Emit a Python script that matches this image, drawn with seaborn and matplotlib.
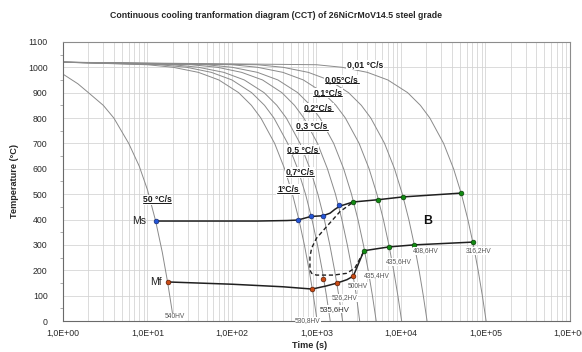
import numpy as np
import pandas as pd
import matplotlib
matplotlib.use("Agg")
import matplotlib.pyplot as plt
from matplotlib.ticker import FuncFormatter, LogLocator, MultipleLocator, NullFormatter
from matplotlib.lines import Line2D
import seaborn as sns

# cooling curves, time (s) read at each temperature level
temp_levels = [1020, 1010, 1000, 980, 950, 900, 850, 800, 700, 600, 500, 400, 300, 200, 100, 0]
times_1 = [1, 10, 20, 40, 70, 120, 170, 220, 320, 420, 520, 620, 720, 820, 920, 1020]
times_07 = [1, 14, 29, 57, 100, 171, 243, 314, 457, 600, 743, 886, 1029, 1171, 1314, 1457]
times_05 = [1, 20, 40, 80, 140, 240, 340, 440, 640, 840, 1040, 1240, 1440, 1640, 1840, 2040]
times_03 = [1, 33, 67, 130, 230, 390, 550, 710, 1030, 1350, 1680, 2000, 2320, 2650, 2970, 3250]
times_02 = [1, 50, 100, 200, 350, 600, 850, 1100, 1600, 2100, 2600, 3100, 3600, 4100, 4600, 5100]
times_01 = [1, 100, 200, 400, 700, 1200, 1700, 2200, 3200, 4200, 5200, 6200, 7200, 8200, 9200, 10200]
times_005 = [1, 200, 400, 800, 1400, 2400, 3400, 4400, 6400, 8400, 10400, 12400, 14400, 16400, 18400, 20400]
times_001 = [1, 1000, 2000, 4000, 7000, 12000, 17000, 22000, 32000, 42000, 52000, 62000, 72000, 82000, 92000, 102000]

# 50 C/s curve has its own points
times_50 = [1, 1.5, 2, 3, 4, 5, 6, 8, 10, 12.5, 15, 17.3, 20]
temps_50 = [973, 935, 900, 850, 800, 745, 700, 610, 517, 394, 270, 154, 20]

# Ms / bainite start line
ms_time = [12.5, 200, 450, 604, 857, 1200, 1450, 1650, 1900, 2270, 2700, 5350, 10500, 51000]
ms_temp = [394, 394, 396, 398, 412, 415, 425, 440, 453, 461, 469, 478, 489, 504]
# Mf / bainite finish line
mf_time = [17.3, 100, 400, 890, 1300, 1733, 2300, 2730, 3650, 7200, 14200, 71000]
mf_temp = [154, 145, 135, 126, 138, 149, 163, 177, 277, 292, 300, 311]
# dashed nose
dash_time = [2610, 1897, 1320, 1000, 877, 838, 838, 877, 1000, 1590, 2275, 2840, 3680]
dash_temp = [464, 431, 372, 326, 287, 253, 201, 188, 181, 181, 188, 208, 277]

blue_time = [12.5, 604, 857, 1200, 1850]
blue_temp = [394, 398, 414, 414, 458]
green_time = [2700, 5350, 10500, 51000, 3650, 7200, 14200, 71000]
green_temp = [469, 478, 489, 504, 277, 292, 300, 311]
orange_time = [17.3, 890, 1200, 1733, 2730]
orange_temp = [154, 126, 166, 149, 177]

rate_labels = ["0,01 °C/s", "0,05°C/s", "0,1°C/s", "0,2°C/s", "0,3 °C/s",
               "0,5 °C/s", "0,7°C/s", "1°C/s", "50 °C/s"]
rate_label_time = [3750, 2000, 1370, 1050, 885, 692, 638, 460, 13]
rate_label_temp = [1009, 950, 899, 840, 767, 674, 586, 517, 477]

hv_labels = ["540HV", "530,8HV", "535,6HV", "526,2HV", "500HV",
             "435,4HV", "435,6HV", "408,6HV", "316,2HV"]
hv_time = [21, 794, 1660, 2175, 3100, 5200, 9460, 19800, 83800]
hv_temp = [16, 0, 47, 91, 138, 181, 233, 276, 276]

curves = {"1": times_1, "0.7": times_07, "0.5": times_05, "0.3": times_03,
          "0.2": times_02, "0.1": times_01, "0.05": times_005, "0.01": times_001}
rows = []
for rate, tt in curves.items():
    for t, T in zip(tt, temp_levels):
        rows.append({"rate": rate, "time": t, "temp": T})
for t, T in zip(times_50, temps_50):
    rows.append({"rate": "50", "time": t, "temp": T})
cool_df = pd.DataFrame(rows)

sns.set_style("whitegrid")
plt.rcParams["font.family"] = ["Liberation Sans", "DejaVu Sans"]

fig = plt.figure(figsize=(5.82, 3.52), dpi=100)
ax = fig.add_axes([0.1082, 0.088, 0.871, 0.793])

sns.lineplot(data=cool_df, x="time", y="temp", units="rate", estimator=None,
             sort=False, color="#8a8a8a", linewidth=0.7, ax=ax, legend=False)

sns.lineplot(x=ms_time, y=ms_temp, sort=False, color="#202020", linewidth=1.1, ax=ax)
sns.lineplot(x=mf_time, y=mf_temp, sort=False, color="#202020", linewidth=1.1, ax=ax)
ax.plot(dash_time, dash_temp, color="#202020", linewidth=1.0, linestyle=(0, (3, 2)))

sns.scatterplot(x=blue_time, y=blue_temp, color="#2455d6", edgecolor="#102060",
                s=12, linewidth=0.4, ax=ax, zorder=5)
sns.scatterplot(x=green_time, y=green_temp, color="#128a12", edgecolor="#053005",
                s=12, linewidth=0.4, ax=ax, zorder=5)
sns.scatterplot(x=orange_time, y=orange_temp, color="#c84a14", edgecolor="#401000",
                s=12, linewidth=0.4, ax=ax, zorder=5)

ax.set_xscale("log")
ax.set_xlim(1, 1e6)
ax.set_ylim(0, 1100)
ax.xaxis.set_major_locator(LogLocator(base=10, numticks=10))
ax.xaxis.set_minor_locator(LogLocator(base=10, subs=np.arange(2, 10), numticks=100))
ax.xaxis.set_major_formatter(FuncFormatter(lambda v, p: f"{v:.1E}".replace(".", ",")))
ax.xaxis.set_minor_formatter(NullFormatter())
ax.yaxis.set_major_locator(MultipleLocator(100))
ax.yaxis.set_minor_locator(MultipleLocator(50))

ax.grid(which="major", axis="both", color="#d2d2d2", linewidth=0.55)
ax.grid(which="minor", axis="x", color="#d2d2d2", linewidth=0.55)
ax.grid(which="minor", axis="y", visible=False)
for s in ax.spines.values():
    s.set_color("#8c8c8c")
    s.set_linewidth(0.8)
ax.spines["left"].set_color("#6a6a6a")
ax.spines["bottom"].set_color("#6a6a6a")
ax.tick_params(axis="both", which="both", direction="out", color="#8c8c8c",
               labelsize=6.3, labelcolor="#2a2a2a")
ax.tick_params(axis="x", which="major", length=3, width=0.6, pad=2.5)
ax.tick_params(axis="x", which="minor", length=2, width=0.5)
ax.tick_params(axis="y", which="major", length=3, width=0.6, pad=8)
ax.tick_params(axis="y", which="minor", length=2, width=0.5, left=True)

ax.set_xlabel("Time (s)", fontsize=6.6, fontweight="bold")
ax.xaxis.set_label_coords(0.487, -0.072)
ax.set_ylabel("Temperature (°C)", fontsize=6.6, fontweight="bold")
ax.yaxis.set_label_coords(-0.087, 0.5)

fig.text(0.474, 0.957,
         "Continuous cooling tranformation diagram (CCT) of 26NiCrMoV14.5 steel grade",
         ha="center", va="center", fontsize=6.3, fontweight="bold")

box = dict(facecolor="white", edgecolor="none", pad=0.6)
under = []
for i, (lab, t, T) in enumerate(zip(rate_labels, rate_label_time, rate_label_temp)):
    txt = ax.text(t, T, lab, ha="center", va="center", fontsize=6.2,
                  fontweight="bold", color="#1a1a1a", bbox=box, zorder=6)
    if i > 0:
        under.append(txt)

for lab, t, T in zip(hv_labels, hv_time, hv_temp):
    fs = 5.6 if lab == "535,6HV" else 4.8
    col = "#333333" if lab == "535,6HV" else "#555555"
    ax.text(t, T, lab, ha="center", va="center", fontsize=fs, color=col,
            bbox=dict(facecolor="white", edgecolor="none", pad=0.4), zorder=6)

ax.text(9.7, 394, "Ms", ha="right", va="center", fontsize=7.6, color="#222222")
ax.text(14.8, 154, "Mf", ha="right", va="center", fontsize=7.6, color="#222222")
ax.text(20900, 394, "B", ha="center", va="center", fontsize=8.8, fontweight="bold",
        color="#111111")

# underline the rate labels
fig.canvas.draw()
renderer = fig.canvas.get_renderer()
inv = fig.transFigure.inverted()
for txt in under:
    bb = txt.get_window_extent(renderer)
    (x0, y0), (x1, _) = inv.transform([(bb.x0, bb.y0 + 1.2), (bb.x1, bb.y0)])
    fig.add_artist(Line2D([x0, x1], [y0, y0], transform=fig.transFigure,
                          color="#1a1a1a", linewidth=0.7, zorder=7))

fig.savefig("out.png", dpi=100)
